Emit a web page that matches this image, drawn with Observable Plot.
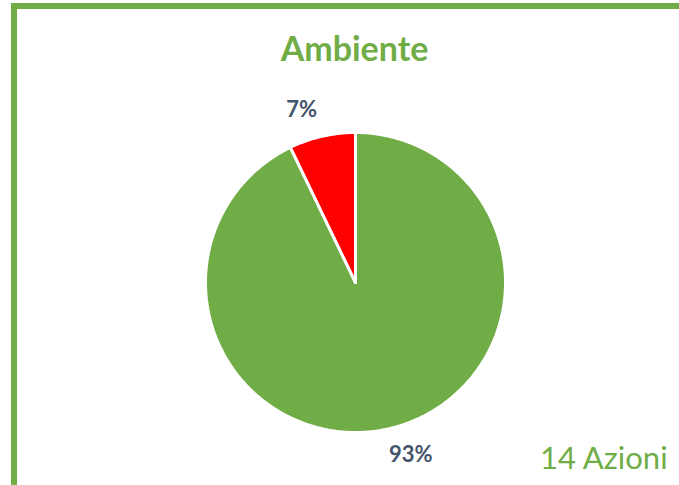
<!DOCTYPE html>
<html>
<head>
<meta charset="utf-8">
<script src="https://cdn.jsdelivr.net/npm/d3@7"></script>
<script src="https://cdn.jsdelivr.net/npm/@observablehq/plot@0.6"></script>
<style>
  html, body { margin: 0; padding: 0; background: #fff; }
  #wrap { position: relative; width: 679px; height: 485px; overflow: hidden; background: #fff; }
  #frame { position: absolute; left: 11px; top: 3px; width: 720px; height: 520px;
           border-left: 6px solid #70AD47; border-top: 6px solid #70AD47; box-sizing: border-box; }
  #title { position: absolute; left: 0; width: 709px; top: 28px; text-align: center; line-height: 1.2;
           font-family: Lato, "Open Sans", sans-serif; font-weight: bold; font-size: 34px; color: #70AD47; }
  #note { position: absolute; left: 540px; top: 438px; font-family: Lato, "Open Sans", sans-serif;
          font-size: 31px; color: #70AD47; white-space: nowrap; }
  #chart { position: absolute; left: 0; top: 0; }
</style>
</head>
<body>
<div id="wrap">
  <div id="frame"></div>
  <div id="chart"></div>
  <div id="title"></div>
  <div id="note"></div>
</div>
<script>
// Data
const categories = ["Realizzate", "Non realizzate"];
const counts = [13, 1];
const colors = ["#70AD47", "#FF0000"];
const titleText = "Ambiente";
const noteText = "14 Azioni";

document.getElementById("title").textContent = titleText;
document.getElementById("note").textContent = noteText;

const total = d3.sum(counts);
const pie = d3.pie().sort(null).value(d => d.value)
  (categories.map((c, i) => ({category: c, value: counts[i]})));

// Build slice outlines from pie angles (unit circle, clockwise from top)
const outline = [];
for (const s of pie) {
  const c = s.data.category;
  outline.push({category: c, x: 0, y: 0});
  const n = Math.max(2, Math.ceil((s.endAngle - s.startAngle) / (Math.PI / 180)));
  for (let k = 0; k <= n; k++) {
    const a = s.startAngle + (s.endAngle - s.startAngle) * k / n;
    outline.push({category: c, x: Math.sin(a), y: Math.cos(a)});
  }
  outline.push({category: c, x: 0, y: 0});
}

const labelR = 1.18;
const labels = pie.map(s => {
  const a = (s.startAngle + s.endAngle) / 2;
  return {
    category: s.data.category,
    text: d3.format(".0%")(s.data.value / total),
    x: labelR * Math.sin(a),
    y: labelR * Math.cos(a)
  };
});

const font = "Lato, 'Open Sans', sans-serif";
const plot = Plot.plot({
  width: 679,
  height: 485,
  marginLeft: 205,
  marginRight: 174,
  marginTop: 132,
  marginBottom: 53,
  x: {domain: [-1, 1], axis: null},
  y: {domain: [-1, 1], axis: null},
  color: {domain: categories, range: colors},
  style: {background: "transparent", overflow: "visible"},
  marks: [
    Plot.line(outline, {x: "x", y: "y", z: "category", fill: "category",
      stroke: "white", strokeWidth: 3, strokeLinejoin: "miter", curve: "linear"}),
    Plot.text(labels.filter(d => d.x < 0), {x: "x", y: "y", text: "text", textAnchor: "end", dx: 1,
      fill: "#44546A", fontWeight: "bold", fontSize: 22, fontFamily: font}),
    Plot.text(labels.filter(d => d.x >= 0), {x: "x", y: "y", text: "text", textAnchor: "start", dx: -6,
      fill: "#44546A", fontWeight: "bold", fontSize: 22, fontFamily: font})
  ]
});
document.getElementById("chart").appendChild(plot);
</script>
</body>
</html>
